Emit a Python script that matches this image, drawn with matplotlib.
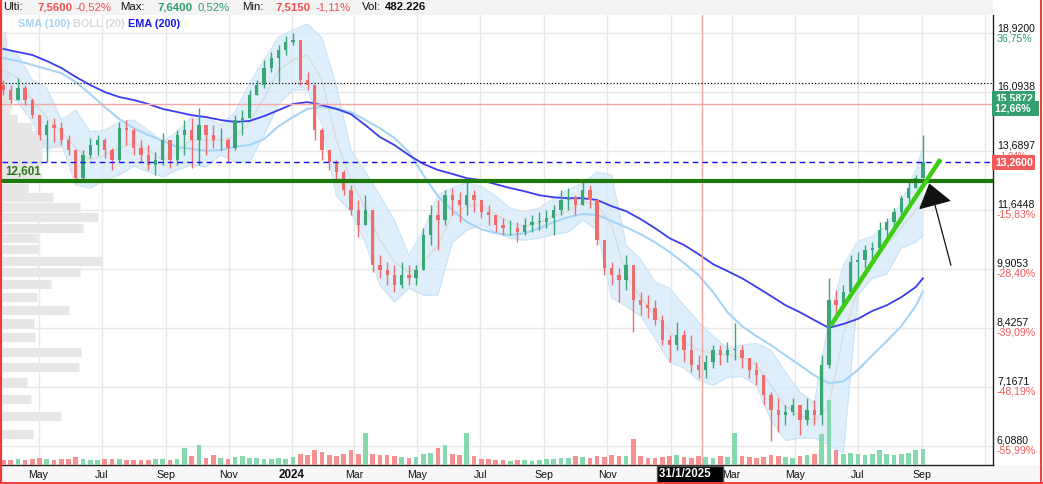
import numpy as np
import pandas as pd
import matplotlib
matplotlib.use('Agg')
import matplotlib.pyplot as plt
import matplotlib.dates as mdates
import matplotlib.ticker as mticker
from matplotlib.transforms import blended_transform_factory
from matplotlib.patches import Rectangle
from matplotlib.lines import Line2D

plt.rcParams['font.family'] = ['Liberation Sans', 'DejaVu Sans']

# ---------------- data (weekly candles) ----------------
week_start = '2023-03-28'
first_open = 16.40
closes = [
    16.18, 15.74, 16.27, 15.74, 15.10, 14.30, 14.69, 14.57, 14.10, 13.72,
    12.70, 13.53, 13.91, 14.10, 13.72, 13.35, 14.57, 14.49, 13.80, 13.53,
    13.17, 13.35, 14.10, 13.35, 14.30, 14.49, 14.10, 14.69, 14.30, 14.10,
    14.10, 13.80, 14.90, 14.98, 15.96, 16.40, 17.19, 17.66, 18.06, 18.46,
    18.56, 16.63, 16.40, 14.49, 13.72, 13.28, 12.92, 12.29, 11.63, 11.16,
    11.63, 10.00, 9.87, 9.73, 9.47, 9.73, 9.65, 9.87, 10.86, 11.48,
    11.32, 12.12, 11.96, 11.80, 12.12, 11.96, 11.57, 11.48, 11.16, 11.07,
    11.07, 10.95, 11.16, 11.26, 11.26, 11.38, 11.63, 11.96, 12.02, 11.80,
    12.29, 11.96, 10.71, 9.92, 9.73, 9.60, 10.00, 9.09, 8.96, 8.89,
    8.60, 8.14, 8.03, 8.25, 7.92, 7.60, 7.50, 7.66, 7.92, 7.81,
    7.92, 7.92, 7.75, 7.50, 7.39, 7.00, 6.72, 6.62, 6.68, 6.81,
    6.53, 6.72, 6.62, 7.60, 9.09, 8.96, 9.29, 10.09, 10.14, 10.42,
    10.48, 11.01, 11.26, 11.57, 12.02, 12.36, 12.70, 13.26]
highs = [
    16.63, 16.40, 16.72, 16.40, 15.83, 15.10, 14.90, 14.98, 14.82, 14.30,
    13.72, 13.72, 14.18, 14.30, 14.18, 13.80, 14.82, 14.90, 14.57, 14.10,
    13.91, 13.65, 14.38, 14.10, 14.49, 14.90, 14.98, 15.40, 14.69, 14.69,
    14.57, 14.18, 15.10, 15.31, 16.18, 16.63, 17.57, 17.96, 18.31, 18.77,
    18.92, 18.31, 17.00, 15.74, 14.57, 13.72, 13.35, 12.99, 12.46, 11.96,
    12.12, 10.86, 10.28, 10.09, 10.00, 10.09, 10.00, 10.00, 11.07, 11.80,
    11.96, 12.29, 12.36, 12.22, 12.70, 12.29, 11.96, 11.80, 11.48, 11.38,
    11.32, 11.26, 11.38, 11.48, 11.57, 11.63, 11.80, 12.29, 12.36, 12.12,
    12.56, 12.46, 11.80, 10.57, 10.09, 9.92, 10.28, 9.92, 9.29, 9.21,
    9.09, 8.72, 8.25, 8.56, 8.37, 8.25, 7.81, 7.81, 8.03, 8.03,
    8.10, 8.53, 8.03, 7.71, 7.66, 7.33, 7.06, 6.94, 6.81, 6.94,
    6.81, 6.94, 6.90, 7.81, 9.65, 9.34, 9.47, 10.28, 10.37, 10.57,
    10.65, 11.26, 11.38, 11.70, 12.12, 12.56, 12.81, 14.30]
lows = [
    15.96, 15.61, 15.83, 15.52, 14.98, 14.10, 13.28, 14.03, 13.91, 13.53,
    12.53, 12.63, 13.42, 13.53, 13.42, 12.99, 13.28, 13.91, 13.53, 13.28,
    12.99, 12.81, 13.17, 13.06, 13.17, 13.53, 13.06, 13.17, 13.53, 13.80,
    13.72, 13.28, 13.72, 14.30, 14.98, 15.96, 16.27, 17.00, 16.54, 17.81,
    18.31, 16.40, 16.18, 14.10, 13.35, 12.99, 12.63, 12.12, 11.48, 10.80,
    11.16, 9.81, 9.65, 9.47, 9.29, 9.39, 9.47, 9.47, 9.87, 10.57,
    10.42, 11.16, 11.48, 11.26, 11.48, 11.57, 11.38, 11.16, 10.95, 10.86,
    10.86, 10.65, 10.86, 10.95, 11.01, 11.07, 10.86, 11.48, 11.63, 11.48,
    11.80, 11.70, 10.57, 9.73, 9.47, 9.04, 9.34, 8.32, 8.72, 8.65,
    8.48, 8.03, 7.66, 7.92, 7.66, 7.46, 7.33, 7.33, 7.54, 7.60,
    7.66, 7.71, 7.54, 7.33, 7.19, 6.81, 6.18, 6.32, 6.45, 6.62,
    6.27, 6.45, 6.45, 6.45, 7.54, 8.72, 8.89, 9.34, 9.55, 9.92,
    10.09, 10.42, 10.71, 11.07, 11.48, 11.89, 12.36, 12.70]
volumes_k = [
    420, 380, 450, 400, 520, 600, 480, 430, 500, 450,
    650, 500, 420, 380, 450, 520, 480, 430, 400, 380,
    420, 450, 500, 400, 480, 1350, 700, 1600, 600, 800,
    550, 500, 650, 700, 600, 550, 500, 480, 600, 520,
    650, 900, 800, 1200, 1050, 800, 750, 900, 1200, 900,
    2600, 900, 800, 800, 700, 650, 600, 650, 900, 1000,
    1350, 1600, 900, 800, 2600, 700, 500, 450, 400, 380,
    350, 380, 400, 350, 420, 450, 500, 550, 600, 700,
    650, 600, 700, 650, 800, 700, 750, 2100, 700, 600,
    550, 650, 700, 800, 650, 600, 700, 650, 600, 700,
    650, 2600, 700, 650, 600, 650, 800, 700, 650, 600,
    700, 800, 900, 2500, 5200, 1200, 900, 1000, 900, 800,
    900, 1200, 900, 800, 900, 1000, 1200, 1300]

# indicators sampled every two weeks (+ last week)
ema200 = [
    18.11, 17.96, 17.81, 17.52, 17.19, 16.77, 16.40, 16.09, 15.87, 15.74,
    15.57, 15.36, 15.23, 15.10, 15.02, 14.90, 14.82, 14.86, 15.06, 15.31,
    15.57, 15.65, 15.52, 15.36, 15.14, 14.69, 14.22, 13.91, 13.53, 13.21,
    12.99, 12.85, 12.70, 12.63, 12.49, 12.36, 12.25, 12.12, 12.05, 12.02,
    12.02, 11.96, 11.76, 11.60, 11.35, 11.07, 10.77, 10.57, 10.31, 10.03,
    9.84, 9.65, 9.42, 9.19, 8.96, 8.79, 8.60, 8.42, 8.51, 8.63,
    8.82, 8.96, 9.16, 9.42, 9.65]
sma100 = [
    17.66, 17.52, 17.33, 17.14, 16.95, 16.54, 16.00, 15.44, 14.94, 14.57,
    14.30, 14.07, 13.84, 13.76, 13.69, 13.72, 13.84, 13.91, 14.14, 14.65,
    15.02, 15.36, 15.44, 15.36, 15.23, 14.90, 14.57, 14.18, 13.65, 12.81,
    12.09, 11.63, 11.26, 11.04, 10.92, 10.86, 10.92, 11.07, 11.26, 11.41,
    11.51, 11.48, 11.29, 11.10, 10.89, 10.65, 10.37, 10.06, 9.73, 9.29,
    8.79, 8.46, 8.23, 8.03, 7.81, 7.60, 7.39, 7.23, 7.27, 7.50,
    7.81, 8.12, 8.46, 8.94, 9.31]
boll_up = [
    18.21, 17.81, 16.63, 16.27, 14.90, 15.31, 14.42, 14.49, 14.82, 14.90,
    14.49, 14.03, 14.42, 15.02, 15.06, 14.69, 15.23, 16.49, 17.57, 18.71,
    19.08, 19.40, 18.66, 16.36, 13.72, 12.92, 12.12, 11.32, 10.28, 11.01,
    12.12, 12.39, 12.53, 12.42, 12.09, 11.70, 11.57, 11.70, 12.02, 12.29,
    12.53, 12.92, 12.81, 10.57, 10.17, 9.55, 9.39, 8.96, 8.56, 8.23,
    7.96, 8.03, 8.07, 7.92, 7.46, 7.06, 6.86, 8.60, 10.00, 10.68,
    10.83, 11.16, 11.89, 12.99, 13.80]
boll_mid = [
    17.09, 16.72, 15.74, 14.98, 14.42, 13.80, 13.35, 13.53, 13.80, 13.98,
    13.72, 13.35, 13.65, 14.10, 14.10, 14.10, 14.22, 14.82, 15.83, 17.09,
    17.57, 17.81, 16.63, 14.10, 12.63, 11.70, 10.71, 10.09, 9.81, 10.09,
    10.57, 11.48, 11.76, 11.80, 11.51, 11.23, 11.13, 11.23, 11.45, 11.60,
    11.92, 11.80, 11.16, 9.73, 9.16, 8.72, 8.32, 8.10, 7.92, 7.85,
    7.81, 7.78, 7.60, 7.19, 6.79, 6.62, 6.53, 6.81, 8.25, 9.34,
    10.00, 10.57, 11.07, 11.63, 11.89]
boll_low = [
    16.09, 15.65, 14.82, 13.72, 13.98, 12.46, 12.36, 12.63, 12.81, 13.13,
    12.92, 12.74, 12.99, 13.17, 13.10, 13.53, 13.28, 13.28, 14.30, 15.57,
    16.18, 16.18, 14.69, 12.09, 11.57, 10.63, 9.47, 9.04, 9.39, 9.21,
    9.21, 10.65, 11.01, 11.16, 10.95, 10.77, 10.71, 10.77, 10.89, 10.95,
    11.32, 11.01, 9.14, 8.94, 8.70, 8.18, 7.66, 7.54, 7.29, 7.19,
    7.35, 7.37, 7.19, 6.53, 6.18, 6.22, 6.22, 6.10, 5.97, 9.21,
    9.65, 9.76, 10.48, 10.65, 10.86]

# volume profile (price bins, volume in millions)
profile_price = [6.29, 6.61, 6.93, 7.25, 7.57, 7.89, 8.21, 8.53, 8.85, 9.17,
                 9.49, 9.81, 10.13, 10.45, 10.77, 11.09, 11.41, 11.73, 12.05, 12.37,
                 12.69, 13.01, 13.33, 13.65, 13.97, 14.29, 14.61, 14.93, 15.25, 15.57,
                 15.89, 16.21, 16.53, 16.85, 17.17, 17.49, 17.81, 18.13, 18.45, 18.77]
profile_vol = [7.8, 14.8, 7.3, 6.3, 19.3, 19.8, 8.3, 8.0, 16.8, 8.8,
               12.3, 19.5, 25.0, 9.0, 9.0, 20.3, 24.0, 19.5, 12.8, 6.5,
               10.0, 8.8, 10.0, 10.0, 15.0, 10.0, 7.5, 3.8, 2.0, 2.5,
               2.5, 2.0, 2.0, 1.8, 1.3, 1.3, 1.3, 1.0, 1.3, 1.0]

ytick_vals = [6.0880, 7.1671, 8.4257, 9.9053, 11.6448, 13.6897, 16.0938, 18.9200]
ytick_pct = ['-55,99%', '-48,19%', '-39,09%', '-28,40%', '-15,83%', '-1,04%', '16,34%', '36,75%']

support_level = 12.601
last_price = 13.26
ref_level = 15.5872
ref_pct = '12,66%'
dotted_level = 16.49
cross_date = '2025-01-31'
trend_dates = ['2025-06-05', '2025-09-19']
trend_prices = [8.48, 13.38]
arrow_tail = ('2025-09-29', 10.00)
arrow_tip = ('2025-09-08', 12.52)

header = [("Ulti:", '#111111', 'normal'), ("7,5600", '#f05050', 'bold'), ("-0,52%", '#f05050', 'normal'),
          ("Max:", '#111111', 'normal'), ("7,6400", '#2e9e6e', 'bold'), ("0,52%", '#2e9e6e', 'normal'),
          ("Min:", '#111111', 'normal'), ("7,5150", '#f05050', 'bold'), ("-1,11%", '#f05050', 'normal'),
          ("Vol:", '#111111', 'normal'), ("482.226", '#111111', 'bold')]
header_x = [3, 37, 75, 120, 157, 198, 242, 275, 315, 362, 385]

# ---------------- figure ----------------
W, H = 1043, 484
fig = plt.figure(figsize=(W / 100, H / 100), dpi=100)
fig.patch.set_facecolor('white')
rect = [2 / W, 19 / H, 991 / W, 450 / H]

ylo, yhi = 5.778, 19.879
xlo, xhi = pd.Timestamp('2023-03-26 16:00'), pd.Timestamp('2025-11-08 16:00')

dates = pd.date_range(week_start, periods=len(closes), freq='7D')
ind_dates = list(dates[::2]) + [dates[-1]]
opens = [first_open] + closes[:-1]
o = np.array(opens); c = np.array(closes)
hi = np.maximum(np.maximum(np.array(highs), o), c)
lo = np.minimum(np.minimum(np.array(lows), o), c)
up = c >= o
GREEN, RED = '#3aa676', '#f26b6b'
cols = [GREEN if u else RED for u in up]
vcols = ['#86d8ae' if u else '#f59090' for u in up]

# volume profile (bottom layer)
ax_prof = fig.add_axes(rect, zorder=0)
ax_prof.set_facecolor('white')
ax_prof.set_yscale('log')
ax_prof.set_ylim(ylo, yhi)
ax_prof.set_xlim(0, 991 / 4)
ax_prof.hlines(profile_price, 0, profile_vol, colors='#e6e6e6', lw=6.6)
for s in ax_prof.spines.values():
    s.set_visible(False)
ax_prof.set_xticks([]); ax_prof.set_yticks([]); ax_prof.yaxis.set_minor_locator(mticker.NullLocator())

# main price axes
ax = fig.add_axes(rect, zorder=1)
ax.patch.set_alpha(0)
ax.set_yscale('log')
ax.set_ylim(ylo, yhi)
ax.set_xlim(xlo, xhi)
ax.set_yticks(ytick_vals)
ax.yaxis.set_minor_locator(mticker.NullLocator())
ax.xaxis.set_major_locator(mdates.MonthLocator(bymonth=[1, 3, 5, 7, 9, 11]))
ax.tick_params(axis='both', length=0, labelleft=False, labelbottom=False, labelright=False)
ax.grid(True, color='#e8e8e8', lw=1)
ax.set_axisbelow(True)
for s in ['top', 'left']:
    ax.spines[s].set_visible(False)
ax.spines['right'].set_color('#222222'); ax.spines['right'].set_linewidth(1)
ax.spines['bottom'].set_color('#222222'); ax.spines['bottom'].set_linewidth(1)

# bollinger band
ax.fill_between(ind_dates, boll_low, boll_up, color='#d4eafa', alpha=0.75, lw=0, zorder=1)
ax.plot(ind_dates, boll_up, color='#c9e3f7', lw=0.8, zorder=1.2)
ax.plot(ind_dates, boll_low, color='#c9e3f7', lw=0.8, zorder=1.2)
ax.plot(ind_dates, boll_mid, color='#dcdcdc', lw=1.1, zorder=1.5)
ax.plot(ind_dates, sma100, color='#a6d4f6', lw=1.5, zorder=2)
ax.plot(ind_dates, ema200, color='#3c3cf0', lw=1.3, zorder=2.1)

# horizontal / vertical reference lines
ax.axhline(ref_level, color='#f7a6a6', lw=1, zorder=2.5)
ax.axvline(pd.Timestamp(cross_date), color='#f7a6a6', lw=1, zorder=2.5)
ax.axhline(dotted_level, color='#111111', lw=0.9, ls=(0, (1, 1.6)), zorder=2.6)

# candles
ax.vlines(dates, lo, hi, colors=cols, lw=1, zorder=4)
ax.bar(dates, np.maximum(np.abs(c - o), 0.02), bottom=np.minimum(o, c), width=3.2,
       color=cols, lw=0, zorder=5)

ax.axhline(last_price, color='#1010ee', lw=1, ls=(0, (4, 3)), zorder=6)
ax.axhline(support_level, color='#1d7a0a', lw=3, zorder=7)
ax.plot(pd.to_datetime(trend_dates), trend_prices, color='#3ccc12', lw=3.2,
        solid_capstyle='butt', zorder=8)
ax.annotate('', xy=(pd.Timestamp(arrow_tip[0]), arrow_tip[1]),
            xytext=(pd.Timestamp(arrow_tail[0]), arrow_tail[1]),
            arrowprops=dict(arrowstyle='-|>,head_length=0.75,head_width=0.55', mutation_scale=20,
                            color='#111111', lw=0.9, shrinkA=0, shrinkB=0),
            annotation_clip=False, zorder=9)

trans_yd = blended_transform_factory(ax.transAxes, ax.transData)
ax.annotate('12,601', xy=(0.003, support_level), xycoords=trans_yd, xytext=(0, 2),
            textcoords='offset points', va='bottom', ha='left', fontsize=8.4,
            fontweight='bold', color='#2a7a18', zorder=10)

# volume axes (on top, transparent)
ax_vol = fig.add_axes(rect, zorder=3)
ax_vol.patch.set_alpha(0)
ax_vol.set_xlim(xlo, xhi)
ax_vol.set_ylim(0, 36000)
ax_vol.bar(dates, volumes_k, width=4.5, color=vcols, lw=0)
ax_vol.axis('off')

# right axis labels
for v, p in zip(ytick_vals, ytick_pct):
    ax.text(1.004, v, f"{v:.4f}".replace('.', ','), transform=trans_yd, ha='left', va='bottom',
            fontsize=7.6, color='#111111', clip_on=False)
    if abs(v - last_price) / last_price > 0.05:
        ax.text(1.004, v, p, transform=trans_yd, ha='left', va='top', fontsize=7.6,
                color='#2e9e6e' if not p.startswith('-') else '#f25a5a', clip_on=False)
    else:
        # partly hidden behind the last-price box, as in the original
        ax.text(1.006, v, p, transform=trans_yd, ha='left', va='top', fontsize=6.3,
                color='#f25a5a', clip_on=False, zorder=1)

ax.text(1.002, ref_level, f"{ref_level:.4f}".replace('.', ','), transform=trans_yd, ha='left',
        va='bottom', fontsize=7.6, color='white', fontweight='bold', clip_on=False, zorder=12,
        bbox=dict(boxstyle='square,pad=0.25', fc='#34a070', ec='none'))
ax.text(1.002, ref_level, ref_pct + '  ', transform=trans_yd, ha='left', va='top', fontsize=7.6,
        color='white', fontweight='bold', clip_on=False, zorder=12,
        bbox=dict(boxstyle='square,pad=0.25', fc='#34a070', ec='none'))
ax.text(1.002, last_price, f"{last_price:.4f}".replace('.', ','), transform=trans_yd, ha='left',
        va='center', fontsize=7.6, color='white', fontweight='bold', clip_on=False, zorder=12,
        bbox=dict(boxstyle='square,pad=0.25', fc='#f25c5c', ec='none'))

# bottom date labels (only within the data range; January 2025 sits under the date box)
trans_xd = blended_transform_factory(ax.transData, ax.transAxes)
last_num = mdates.date2num(dates[-1])
box_num = mdates.date2num(pd.Timestamp(cross_date))
for t in ax.get_xticks():
    if t > last_num + 5 or -45 < (t - box_num) < 10:
        continue
    d = mdates.num2date(t)
    if d.month == 1:
        ax.text(t, -0.023, str(d.year), transform=trans_xd, ha='center', va='center',
                fontsize=8.4, fontweight='bold', color='#111111', clip_on=False)
    else:
        ax.text(t, -0.023, d.strftime('%b'), transform=trans_xd, ha='center', va='center',
                fontsize=7.6, color='#111111', clip_on=False)
ax.text(pd.Timestamp('2024-12-21'), -0.021, '31/1/2025   ', transform=trans_xd, ha='left',
        va='center', fontsize=8.3, fontweight='bold', color='white', clip_on=False, zorder=20,
        bbox=dict(boxstyle='square,pad=0.2', fc='black', ec='#555555', lw=1))

# header strip, legend, bottom strip, border
fig.patches.append(Rectangle((0, 1 - 15 / H), 993 / W, 15 / H, transform=fig.transFigure,
                             fc='#f4f4f4', ec='none', zorder=-1))
fig.patches.append(Rectangle((0, 0), 1, 19 / H, transform=fig.transFigure,
                             fc='#f7f7f7', ec='none', zorder=-1))
for (txt, col, wt), xp in zip(header, header_x):
    fig.text(xp / W, 1 - 7.5 / H, txt, color=col, fontweight=wt, fontsize=8.2,
             ha='left', va='center')
fig.text(18 / W, 1 - 24 / H, 'SMA (100)', color='#a6d4f6', fontweight='bold', fontsize=7.8,
         ha='left', va='center', zorder=20)
fig.text(73 / W, 1 - 24 / H, 'BOLL (20)', color='#d8d8d8', fontweight='bold', fontsize=7.8,
         ha='left', va='center', zorder=20)
fig.text(128 / W, 1 - 24 / H, 'EMA (200)', color='#1a1aee', fontweight='bold', fontsize=7.8,
         ha='left', va='center', zorder=20)

red = '#f03a3a'
fig.add_artist(Line2D([0.8 / W, 0.8 / W], [0, 1], color=red, lw=1.6, transform=fig.transFigure))
fig.add_artist(Line2D([1041 / W, 1041 / W], [0, 1], color=red, lw=1.4, transform=fig.transFigure))
fig.add_artist(Line2D([0, 1], [1.5 / H, 1.5 / H], color=red, lw=1.4, transform=fig.transFigure))

fig.savefig('out.png', dpi=100)
